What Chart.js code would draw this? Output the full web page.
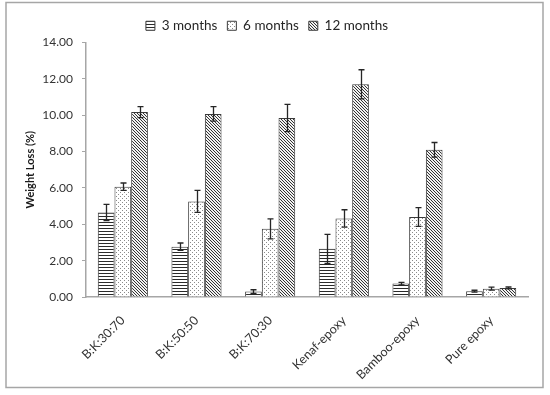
<!DOCTYPE html>
<html>
<head>
<meta charset="utf-8">
<script src="https://cdn.jsdelivr.net/npm/chart.js@4.4.1/dist/chart.umd.min.js"></script>
<style>
html,body{margin:0;padding:0;background:#fff;}
#wrap{width:550px;height:395px;position:relative;}
</style>
</head>
<body>
<div id="wrap"><canvas id="c" width="550" height="395"></canvas></div>
<script>
const categories = ["B:K:30:70","B:K:50:50","B:K:70:30","Kenaf-epoxy","Bamboo-epoxy","Pure epoxy"];
const seriesNames = ["3 months","6 months","12 months"];
const months3 = [4.65, 2.77, 0.30, 2.65, 0.74, 0.32];
const months6 = [6.07, 5.26, 3.75, 4.32, 4.40, 0.46];
const months12 = [10.17, 10.07, 9.85, 11.70, 8.10, 0.50];
const err3 = [0.45, 0.20, 0.10, 0.80, 0.07, 0.05];
const err6 = [0.20, 0.60, 0.55, 0.48, 0.52, 0.08];
const err12 = [0.30, 0.40, 0.75, 0.80, 0.40, 0.05];
const yTicks = [0,2,4,6,8,10,12,14];

function makePattern(kind){
  const c = document.createElement('canvas');
  const x = c.getContext('2d');
  if(kind==='h'){
    c.width=3;c.height=3;
    x.fillStyle='#fff';x.fillRect(0,0,3,3);
    x.fillStyle='#2b2b2b';x.fillRect(0,0,3,1);
  } else if(kind==='d'){
    c.width=4;c.height=4;
    x.fillStyle='#fff';x.fillRect(0,0,4,4);
    x.fillStyle='#8a8a8a';x.fillRect(0,0,1,1);x.fillRect(2,2,1,1);
  } else {
    c.width=3;c.height=3;
    x.fillStyle='#f2f2f2';x.fillRect(0,0,3,3);
    x.fillStyle='#333';
    for(let i=0;i<3;i++) x.fillRect(i,i,1,1);
  }
  return x.createPattern(c,'repeat');
}

const errors = [err3, err6, err12];

const errorBars = {
  id:'errorBars',
  afterDatasetsDraw(chart){
    const ctx = chart.ctx;
    const ys = chart.scales.y;
    ctx.save();
    ctx.strokeStyle='#262626';
    ctx.lineWidth=1.3;
    chart.data.datasets.forEach((ds,di)=>{
      const meta = chart.getDatasetMeta(di);
      meta.data.forEach((bar,i)=>{
        const v = ds.data[i], e = errors[di][i];
        const x = Math.round(bar.x)+0.5;
        const yt = ys.getPixelForValue(v+e), yb = ys.getPixelForValue(v-e);
        ctx.beginPath();
        ctx.moveTo(x,yt);ctx.lineTo(x,yb);
        ctx.moveTo(x-3,yt);ctx.lineTo(x+3,yt);
        ctx.moveTo(x-3,yb);ctx.lineTo(x+3,yb);
        ctx.stroke();
      });
    });
    ctx.restore();
  }
};

const frame = {
  id:'frame',
  beforeDraw(chart){
    const ctx = chart.ctx;
    ctx.save();
    ctx.fillStyle='#fff';ctx.fillRect(0,0,chart.width,chart.height);
    ctx.strokeStyle='#a6a6a6';ctx.lineWidth=1.5;
    ctx.strokeRect(6,2.5,537,385);
    ctx.restore();
  }
};

const FONT = "Lato, 'Open Sans', sans-serif";

new Chart(document.getElementById('c'),{
  type:'bar',
  data:{
    labels:categories,
    datasets:[
      {label:seriesNames[0],data:months3,backgroundColor:makePattern('h'),borderColor:'#3a3a3a',borderWidth:1},
      {label:seriesNames[1],data:months6,backgroundColor:makePattern('d'),borderColor:'#3a3a3a',borderWidth:1},
      {label:seriesNames[2],data:months12,backgroundColor:makePattern('x'),borderColor:'#3a3a3a',borderWidth:1}
    ]
  },
  plugins:[frame,errorBars],
  options:{
    responsive:false,
    animation:false,
    devicePixelRatio:1,
    layout:{padding:{left:6,right:22,top:9,bottom:8}},
    datasets:{bar:{categoryPercentage:0.68,barPercentage:1.0}},
    plugins:{
      legend:{
        position:'top',
        labels:{boxWidth:9,boxHeight:9,padding:10,color:'#262626',font:{family:FONT,size:13.5}}
      },
      tooltip:{enabled:false}
    },
    scales:{
      x:{
        grid:{display:false},
        border:{color:'#a6a6a6',width:1.5},
        ticks:{minRotation:45,maxRotation:45,color:'#333',font:{family:FONT,size:12.5},padding:8},
        afterFit(s){s.height=90;}
      },
      y:{
        min:0,max:14,
        afterBuildTicks(s){s.ticks=yTicks.map(v=>({value:v}));},
        grid:{display:true,drawOnChartArea:false,drawTicks:true,tickLength:4,color:'#a6a6a6'},
        border:{color:'#a6a6a6',width:1.5},
        ticks:{color:'#333',font:{family:FONT,size:12},padding:9,callback:v=>Number(v).toFixed(2)},
        title:{display:true,text:'Weight Loss (%)',color:'#1a1a1a',font:{family:FONT,size:11,weight:'bold'},padding:{top:18,bottom:0}},
        afterFit(s){s.width=80;}
      }
    }
  }
});
</script>
</body>
</html>
